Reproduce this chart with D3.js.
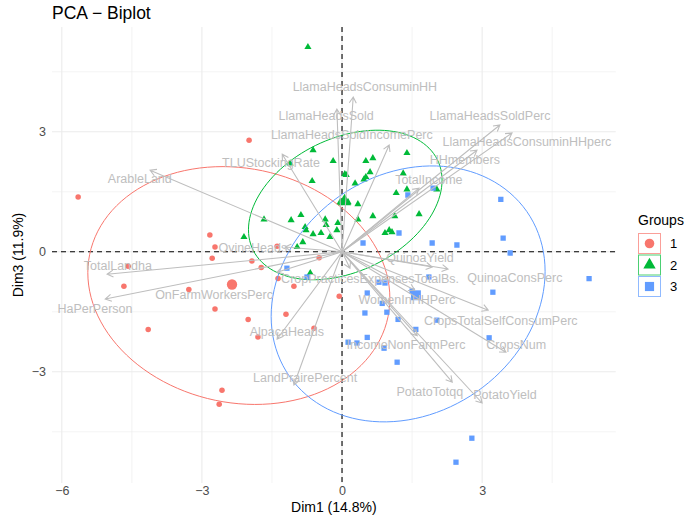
<!DOCTYPE html>
<html lang="en">
<head>
<meta charset="UTF-8">
<title>PCA - Biplot</title>
<style>
  body { margin: 0; background: #fff; }
  text { font-family: "Liberation Sans", Arial, sans-serif; }
</style>
</head>
<body>
<div id="chart"></div>
<script src="https://d3js.org/d3.v7.min.js"></script>
<script>
// individuals, one array per group: [Dim1, Dim3]
const group1 = [[-5.65,1.37],[-1.99,2.79],[-2.83,0.42],[-2.72,0.12],[-1.39,0.14],[-2.78,-0.16],[-1.93,-0.23],
  [-4.58,-0.36],[-1.73,-0.39],[-0.49,-0.15],[-4.67,-0.86],[-3.28,-0.94],[-1.37,-0.67],[-1.03,-0.86],[-0.06,-1.11],
  [-2.72,-1.43],[-2.01,-1.69],[-1.20,-1.56],[-4.15,-1.94],[-1.80,-2.13],[-0.60,-1.91],[-2.57,-3.46],[-2.63,-3.81]];
const group2 = [[-0.73,5.12],[-0.62,2.54],[-0.19,2.27],[-1.11,2.21],[-0.64,1.77],[0.09,1.92],[-0.04,1.24],[0.13,1.24],
  [0.34,1.19],[-1.67,0.81],[-1.09,0.79],[-0.88,0.92],[-0.36,0.81],[-0.79,0.62],[-0.77,0.54],[-0.62,0.44],[-0.45,0.47],
  [-0.26,0.37],[-0.11,0.54],[-0.34,0.67],[-0.09,0.72],[-2.10,0.37],[-0.84,0.24],[-0.96,0.12],[0.06,1.94],[0.51,2.27],
  [0.66,2.34],[0.28,1.71],[0.60,1.99],[0.51,1.87],[0.47,1.81],[1.39,2.47],[1.31,1.96],[1.16,1.47],[1.39,1.56],
  [2.03,1.56],[0.34,0.81],[0.66,0.89],[1.13,0.89],[1.65,0.94],[0.92,0.47],[1.01,0.54],[1.07,0.49],[-0.68,-0.53]];
const group3 = [[3.40,1.31],[3.45,0.34],[3.60,-0.03],[2.46,0.17],[1.93,0.22],[1.22,0.47],[0.45,0.22],[1.41,1.42],
  [1.95,1.59],[5.29,-0.67],[3.23,-1.01],[1.86,-0.63],[0.92,-0.78],[0.79,-0.76],[0.54,-1.03],[1.50,-0.98],[0.86,-1.29],
  [0.49,-1.53],[0.96,-1.51],[1.20,-1.69],[2.03,-1.71],[1.58,-1.94],[3.15,-2.15],[0.54,-2.14],[0.13,-2.26],[0.32,-2.28],
  [0.90,-2.41],[1.18,-2.76],[2.78,-4.66],[2.44,-5.26],[-1.18,-0.41],[-0.75,-0.63]];
const groupNames = ["1", "2", "3"];

// variables (arrow tips) and where their labels sit
const varNames = ["LlamaHeadsConsuminHH","LlamaHeadsSold","LlamaHeadsSoldIncomePerc","TLUStockingRate","ArableLand",
  "LlamaHeadsSoldPerc","LlamaHeadsConsuminHHperc","HHmembers","TotalIncome","OvineHeads","TotalLandha","HaPerPerson",
  "OnFarmWorkersPerc","CropPracticesExpensesTotalBs.","AlpacaHeads","LandPrairePercent","QuinoaYield","QuinoaConsPerc",
  "WomenInHHPerc","CropsTotalSelfConsumPerc","CropsNum","IncomeNonFarmPerc","PotatoTotqq","PotatoYield"];
const varDim1 = [0.24,-0.11,1.01,-1.28,-4.11,3.38,3.64,2.89,1.65,-1.22,-5.03,-5.07,-1.39,0.17,-1.39,-1.03,1.93,2.27,
  1.56,3.13,3.51,1.61,2.36,3.00];
const varDim3 = [3.87,3.57,2.67,2.44,2.04,3.17,2.97,2.54,1.59,0.12,-0.56,-1.18,-0.51,-0.41,-2.18,-3.33,-0.38,-0.43,
  -0.96,-1.46,-2.51,-2.10,-3.26,-3.78];
const labelDim1 = [0.49,-0.34,0.21,-1.52,-4.33,3.17,3.96,2.63,1.86,-1.91,-4.80,-5.29,-2.74,0.60,-1.18,-0.79,1.67,3.70,
  1.39,3.40,3.73,1.37,1.88,3.49];
const labelDim3 = [4.12,3.39,2.92,2.22,1.82,3.39,2.74,2.29,1.79,0.09,-0.36,-1.42,-1.07,-0.68,-2.01,-3.16,-0.16,-0.66,
  -1.21,-1.73,-2.33,-2.33,-3.51,-3.58];

const xTicks = [-6, -3, 0, 3];
const yTicks = [-3, 0, 3];

const W = 687, H = 518;
const P = { left: 52, right: 615.7, top: 27, bottom: 483 };
const colors = ["#F8766D", "#00BA38", "#619CFF"];
const symbols = [d3.symbolCircle, d3.symbolTriangle, d3.symbolSquare];
const symSize = [24, 22, 28];

const x = d3.scaleLinear().domain([-6.21, 5.86]).range([P.left, P.right]);
const y = d3.scaleLinear().domain([-5.78, 5.62]).range([P.bottom, P.top]);

const svg = d3.select("#chart").append("svg").attr("width", W).attr("height", H);

// grid (theme_minimal)
const minorX = d3.range(-7.5, 6.1, 3), minorY = d3.range(-4.5, 5.7, 3);
const grid = svg.append("g");
grid.selectAll(".mx").data(minorX.filter(v => x(v) > P.left && x(v) < P.right)).enter().append("line")
  .attr("x1", d => x(d)).attr("x2", d => x(d)).attr("y1", P.top).attr("y2", P.bottom)
  .attr("stroke", "#ebebeb").attr("stroke-width", 0.6);
grid.selectAll(".my").data(minorY).enter().append("line")
  .attr("y1", d => y(d)).attr("y2", d => y(d)).attr("x1", P.left).attr("x2", P.right)
  .attr("stroke", "#ebebeb").attr("stroke-width", 0.6);
grid.selectAll(".Mx").data(xTicks).enter().append("line")
  .attr("x1", d => x(d)).attr("x2", d => x(d)).attr("y1", P.top).attr("y2", P.bottom)
  .attr("stroke", "#ebebeb").attr("stroke-width", 1.1);
grid.selectAll(".My").data(yTicks).enter().append("line")
  .attr("y1", d => y(d)).attr("y2", d => y(d)).attr("x1", P.left).attr("x2", P.right)
  .attr("stroke", "#ebebeb").attr("stroke-width", 1.1);

// axes tick labels
svg.append("g").attr("transform", `translate(0,${P.bottom + 1})`)
  .call(d3.axisBottom(x).tickValues(xTicks).tickSize(0).tickPadding(2))
  .call(g => g.select(".domain").remove())
  .selectAll("text").attr("font-size", 12.5).attr("fill", "#4d4d4d")
  .attr("font-family", "Liberation Sans, Arial, sans-serif");
svg.append("g").attr("transform", `translate(${P.left - 4},0)`)
  .call(d3.axisLeft(y).tickValues(yTicks).tickSize(0).tickPadding(2))
  .call(g => g.select(".domain").remove())
  .selectAll("text").attr("font-size", 12.5).attr("fill", "#4d4d4d")
  .attr("font-family", "Liberation Sans, Arial, sans-serif");

// reference lines at 0
svg.append("line").attr("x1", x(0)).attr("x2", x(0)).attr("y1", P.top).attr("y2", P.bottom)
  .attr("stroke", "#000").attr("stroke-width", 1.1).attr("stroke-dasharray", "5,4");
svg.append("line").attr("y1", y(0)).attr("y2", y(0)).attr("x1", P.left).attr("x2", P.right)
  .attr("stroke", "#000").attr("stroke-width", 1.1).attr("stroke-dasharray", "5,4");

// robust (multivariate t) ellipse like stat_ellipse(type = "t")
function covTrob(pts, nu) {
  const n = pts.length;
  let w = pts.map(() => 1);
  let loc = [d3.mean(pts, d => d[0]), d3.mean(pts, d => d[1])];
  let X = [];
  for (let it = 0; it < 25; it++) {
    const w0 = w.slice();
    X = pts.map(p => [p[0] - loc[0], p[1] - loc[1]]);
    const sw = d3.sum(w);
    const sxx = d3.sum(X, (d, i) => w[i] * d[0] * d[0]) / sw;
    const syy = d3.sum(X, (d, i) => w[i] * d[1] * d[1]) / sw;
    const sxy = d3.sum(X, (d, i) => w[i] * d[0] * d[1]) / sw;
    const det = sxx * syy - sxy * sxy;
    w = X.map(d => (nu + 2) / (nu + (syy * d[0] * d[0] - 2 * sxy * d[0] * d[1] + sxx * d[1] * d[1]) / det));
    const ws = d3.sum(w);
    loc = [d3.sum(pts, (p, i) => w[i] * p[0]) / ws, d3.sum(pts, (p, i) => w[i] * p[1]) / ws];
    if (d3.max(w, (v, i) => Math.abs(v - w0[i])) < 1e-4) break;
  }
  const cxx = d3.sum(X, (d, i) => w[i] * d[0] * d[0]) / n;
  const cyy = d3.sum(X, (d, i) => w[i] * d[1] * d[1]) / n;
  const cxy = d3.sum(X, (d, i) => w[i] * d[0] * d[1]) / n;
  return { loc, cxx, cyy, cxy };
}
function ellipsePoints(pts) {
  const n = pts.length, dfd = n - 1;
  const qf = (dfd / 2) * (Math.pow(0.05, -2 / dfd) - 1);
  const r = Math.sqrt(2 * qf);
  const c = covTrob(pts, 5);
  const r11 = Math.sqrt(c.cxx), r12 = c.cxy / r11, r22 = Math.sqrt(c.cyy - r12 * r12);
  return d3.range(0, 2 * Math.PI + 0.001, Math.PI / 60).map(t =>
    [c.loc[0] + r * Math.cos(t) * r11, c.loc[1] + r * (Math.cos(t) * r12 + Math.sin(t) * r22)]);
}

svg.append("clipPath").attr("id", "panel").append("rect")
  .attr("x", P.left).attr("y", P.top).attr("width", P.right - P.left).attr("height", P.bottom - P.top);
const plot = svg.append("g").attr("clip-path", "url(#panel)");

const groups = [group1, group2, group3];
const line = d3.line().x(d => x(d[0])).y(d => y(d[1]));

groups.forEach((pts, gi) => {
  plot.append("path").attr("d", line(ellipsePoints(pts)))
    .attr("fill", "none").attr("stroke", colors[gi]).attr("stroke-width", 1);
  plot.selectAll(null).data(pts).enter().append("path")
    .attr("d", d3.symbol(symbols[gi], symSize[gi]))
    .attr("transform", d => `translate(${x(d[0])},${y(d[1])})`)
    .attr("fill", colors[gi]);
  const mean = [d3.mean(pts, d => d[0]), d3.mean(pts, d => d[1])];
  plot.append("path").attr("d", d3.symbol(symbols[gi], symSize[gi] * 3.5))
    .attr("transform", `translate(${x(mean[0])},${y(mean[1])})`)
    .attr("fill", colors[gi]);
});

// variable arrows
const arrowCol = "#bebebe";
const head = 7;
varNames.forEach((name, i) => {
  const x0 = x(0), y0 = y(0), x1 = x(varDim1[i]), y1 = y(varDim3[i]);
  const a = Math.atan2(y1 - y0, x1 - x0);
  const h1 = [x1 - head * Math.cos(a - Math.PI / 6), y1 - head * Math.sin(a - Math.PI / 6)];
  const h2 = [x1 - head * Math.cos(a + Math.PI / 6), y1 - head * Math.sin(a + Math.PI / 6)];
  plot.append("path")
    .attr("d", `M${x0},${y0}L${x1},${y1}M${h1[0]},${h1[1]}L${x1},${y1}L${h2[0]},${h2[1]}`)
    .attr("fill", "none").attr("stroke", arrowCol).attr("stroke-width", 1.1);
});
plot.selectAll(".vlab").data(varNames).enter().append("text")
  .attr("x", (d, i) => x(labelDim1[i])).attr("y", (d, i) => y(labelDim3[i]))
  .attr("text-anchor", "middle").attr("dominant-baseline", "central")
  .attr("font-size", 12.5).attr("fill", arrowCol)
  .text(d => d);

// titles
svg.append("text").attr("x", P.left).attr("y", 19).attr("font-size", 17.5).attr("fill", "#000")
  .text("PCA \u2212 Biplot");
svg.append("text").attr("x", (P.left + P.right) / 2).attr("y", 512).attr("text-anchor", "middle")
  .attr("font-size", 14).attr("fill", "#000").text("Dim1 (14.8%)");
svg.append("text").attr("transform", `translate(23,${(P.top + P.bottom) / 2}) rotate(-90)`)
  .attr("text-anchor", "middle").attr("font-size", 14).attr("fill", "#000").text("Dim3 (11.9%)");

// legend
const leg = svg.append("g").attr("transform", "translate(638,0)");
leg.append("text").attr("x", 0).attr("y", 225).attr("font-size", 14).attr("fill", "#000").text("Groups");
groupNames.forEach((g, i) => {
  const ky = 233 + i * 21.5;
  leg.append("rect").attr("x", 0.5).attr("y", ky + 0.5).attr("width", 22).attr("height", 20)
    .attr("fill", "#fff").attr("stroke", colors[i]).attr("stroke-opacity", 0.7);
  leg.append("path").attr("d", d3.symbol(symbols[i], symSize[i] * 3))
    .attr("transform", `translate(11.5,${ky + 10.5})`).attr("fill", colors[i]);
  leg.append("text").attr("x", 32).attr("y", ky + 15).attr("font-size", 13).attr("fill", "#000").text(g);
});
</script>
</body>
</html>
